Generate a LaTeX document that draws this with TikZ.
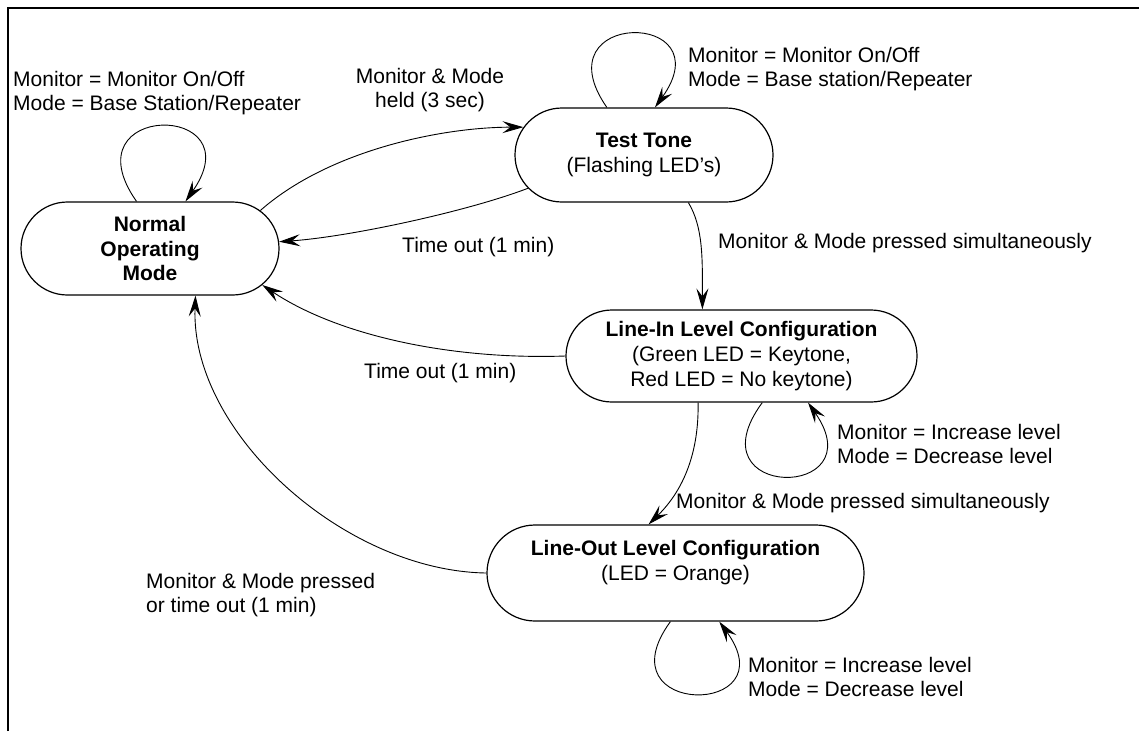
\documentclass[tikz,border=0pt]{standalone}
\usepackage{fontspec}
\setmainfont{Liberation Sans}
\usetikzlibrary{arrows.meta,shapes.misc}

\newcommand{\diagfont}{\fontsize{21}{24.8}\selectfont}

\tikzset{
  state/.style={rounded rectangle, draw, line width=1.2pt, inner sep=0pt,
                align=center, font=\diagfont},
  lbl/.style={inner sep=0pt, font=\diagfont},
  lblnw/.style={lbl, anchor=north west, align=left},
  lbln/.style={lbl, anchor=north, align=center},
  conn/.style={line width=0.9pt, -{Stealth[length=21pt,width=12pt,inset=8pt]}},
}

\begin{document}
\begin{tikzpicture}[x=1pt,y=-1pt]
  \useasboundingbox (0,0) rectangle (1139,731);

  % outer frame (top and left edges only)
  \draw[line width=2pt] (8,731) -- (8,8) -- (1139,8);

  % states
  \node[state, minimum width=258pt, minimum height=93pt] (normal) at (150,248.5)
    {\bfseries Normal\\\bfseries Operating\\\bfseries Mode};
  \node[state, minimum width=258pt, minimum height=94pt] (test) at (644,155)
    {\bfseries Test Tone\\(Flashing LED’s)};
  \node[state, minimum width=351pt, minimum height=92pt] (linein) at (741.5,356)
    {\bfseries Line-In Level Configuration\\(Green LED = Keytone,\\Red LED = No keytone)};
  \node[state, minimum width=377pt, minimum height=96pt] (lineout) at (675.5,573)
    {\bfseries Line-Out Level Configuration\\(LED = Orange)\\\mbox{}};

  % self loops
  \draw[conn] (normal.106) .. controls +(-70,-100) and +(70,-100) .. (normal.53);
  \draw[conn] (test.128) .. controls +(-68,-98) and +(70,-98) .. (test.77);
  \draw[conn] (linein.-66) .. controls +(-72,98) and +(68,98) .. (linein.-35);
  \draw[conn] (lineout.-96) .. controls +(-70,96) and +(70,96) .. (lineout.-48);

  % transitions
  \draw[conn] (normal.19) .. controls +(68,-60) and +(-82,0) .. (test.167);
  \draw[conn] (test.196) .. controls +(-60,23) and +(71,-5) .. (normal.3);
  \draw[conn] (test.-47) .. controls +(15,25) and +(0,-50) .. (linein.130);
  \draw[conn] (linein.west) .. controls +(-116,4) and +(75,50) .. (normal.-18);
  \draw[conn] (linein.-133) .. controls +(1,48) and +(36,-35) .. (lineout.119);
  \draw[conn] (lineout.west) .. controls +(-142,-2) and +(-5,137) .. (normal.-46);

  % transition labels
  \node[lblnw] (l1) at (13,68.6) {\strut Monitor = Monitor On/Off\\Mode = Base Station/Repeater};
  \node[lbln]  (l2) at (430,65.6) {\strut Monitor \& Mode\\held (3 sec)};
  \node[lblnw] (l3) at (688,44.6) {\strut Monitor = Monitor On/Off\\Mode = Base station/Repeater};
  \node[lbl, anchor=base west] (l4) at (402,252) {Time out (1 min)};
  \node[lbl, anchor=base west] (l5) at (718,248) {Monitor \& Mode pressed simultaneously};
  \node[lbl, anchor=base west] (l6) at (364,378) {Time out (1 min)};
  \node[lblnw] (l7) at (837,421.6) {\strut Monitor = Increase level\\Mode = Decrease level};
  \node[lbl, anchor=base west] (l8) at (676,508) {Monitor \& Mode pressed simultaneously};
  \node[lblnw] (l9) at (146,570.6) {\strut Monitor \& Mode pressed\\or time out (1 min)};
  \node[lblnw] (l10) at (748,654.6) {\strut Monitor = Increase level\\Mode = Decrease level};
\end{tikzpicture}
\end{document}
